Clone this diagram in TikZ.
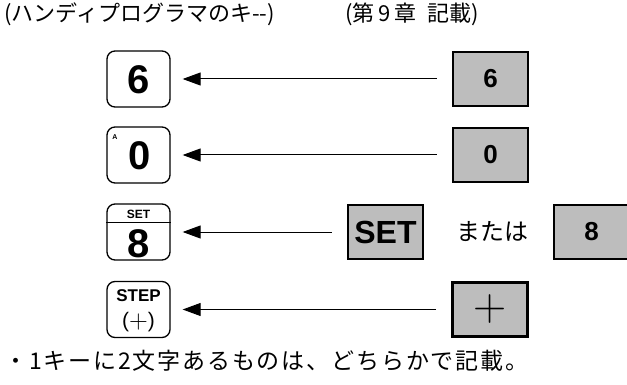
\documentclass[tikz,border=0pt]{standalone}
\usepackage{fontspec}
\setmainfont{Liberation Sans}
\newfontfamily\jp{Noto Sans CJK JP}
\newfontfamily\jpwide[LetterSpace=8]{Noto Sans CJK JP}
\newfontfamily\lmthin{Latin Modern Roman}
\usetikzlibrary{arrows.meta}
\begin{document}
\begin{tikzpicture}[x=1pt,y=-1pt,
  handkey/.style={draw,line width=1.3pt,rounded corners=8pt,minimum width=63pt,minimum height=56pt,inner sep=0pt},
  bookkey/.style={draw,line width=2.6pt,fill=black!26,minimum width=75pt,minimum height=54pt,inner sep=0pt,font=\bfseries\fontsize{26}{26}\selectfont},
  link/.style={line width=1pt,-{Triangle[length=18pt,width=13pt]},shorten >=12pt,shorten <=15pt},
  jptext/.style={font=\jp\fontsize{22}{26}\selectfont,inner sep=0pt},
  bigdigit/.style={font=\bfseries\fontsize{40}{40}\selectfont,inner sep=0pt}]
\useasboundingbox (0,0) rectangle (627,385);

% titles
\node[jptext,anchor=west] (t1) at (4,14) {(ハンディプログラマのキ--)};
\node[jptext,anchor=west] (t2) at (345,14) {(第\,9\,章\enspace 記載)};

% handy programmer keys
\node[handkey] (k1) at (138.5,79) {};
\node[bigdigit] (k1t) at (138.5,80) {6};
\node[handkey] (k2) at (138.5,155) {};
\node[bigdigit] (k2t) at (140,156) {0};
\node[inner sep=0pt,font=\bfseries\fontsize{7}{7}\selectfont] (k2a) at (115,137) {A};
\node[handkey] (k3) at (138.5,232) {};
\node[inner sep=0pt,font=\bfseries\fontsize{12}{12}\selectfont] (k3a) at (138.5,214) {SET};
\draw[line width=1pt] (k3.west |- 0,223) -- (k3.east |- 0,223);
\node[bigdigit] (k3t) at (138.5,244) {8};
\node[handkey] (k4) at (138.5,309.5) {};
\node[inner sep=0pt,font=\bfseries\fontsize{17}{17}\selectfont] (k4a) at (138.5,296) {STEP};
\node[inner sep=0pt,font=\fontsize{21}{21}\selectfont] (k4b) at (138.5,322) {(\raisebox{-1pt}{\lmthin\fontsize{26}{26}\selectfont +})};

% book notation keys
\node[bookkey] (r1) at (490.5,79) {6};
\node[bookkey] (r2) at (490.5,155) {0};
\node[bookkey,font=\bfseries\fontsize{32}{32}\selectfont] (r3) at (385.5,232) {SET};
\node[font=\jp\fontsize{24}{24}\selectfont,inner sep=0pt] (or) at (492,232) {または};
\node[bookkey] (r3b) at (591.5,232) {8};
\node[bookkey,font=\lmthin\fontsize{46}{46}\selectfont] (r4) at (490,309.5) {+};

% connectors
\draw[link] (r1) -- (k1);
\draw[link] (r2) -- (k2);
\draw[link] (r3) -- (k3);
\draw[link] (r4) -- (k4);

% note
\node[font=\jpwide\fontsize{23}{26}\selectfont,inner sep=0pt,anchor=west] (t3) at (4,361) {・1キーに2文字あるものは、どちらかで記載。};
\end{tikzpicture}
\end{document}
